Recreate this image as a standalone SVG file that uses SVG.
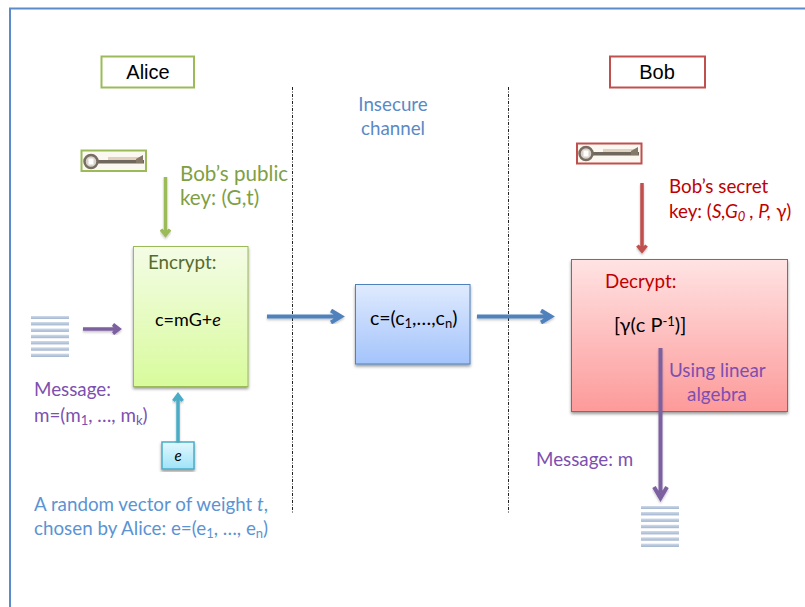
<svg xmlns="http://www.w3.org/2000/svg" width="805" height="607" viewBox="0 0 805 607">
<style>
text{font-family:Lato,"Open Sans",sans-serif;font-size:18.800px}
.a{font-family:"Liberation Sans",Arial,sans-serif;font-size:20px;fill:#000;text-anchor:middle}
.k{fill:#000}.g{fill:#7f9f45;font-size:20.600px}.r{fill:#c00000}.p{fill:#7d4fb0}.b{fill:#5b93d3}.s{fill:#5a8ac6}
.i{font-style:italic}
.u{font-size:13px}
.ln{fill:none;stroke-width:3.500;stroke-linecap:butt;stroke-linejoin:miter}
.d{stroke:#222;stroke-width:1;stroke-dasharray:3 1.5 1 1.5;fill:none}
</style>
<defs>
<linearGradient id="gg" x1="0" y1="0" x2="0" y2="1"><stop offset="0" stop-color="#f4fce6"/><stop offset="1" stop-color="#d8fb9c"/></linearGradient>
<linearGradient id="gb" x1="0" y1="0" x2="0" y2="1"><stop offset="0" stop-color="#dfeafe"/><stop offset="1" stop-color="#a4c4fb"/></linearGradient>
<linearGradient id="gr" x1="0" y1="0" x2="0" y2="1"><stop offset="0" stop-color="#ffe3e3"/><stop offset="1" stop-color="#fd9a9a"/></linearGradient>
<linearGradient id="gc" x1="0" y1="0" x2="0" y2="1"><stop offset="0" stop-color="#e2f8fe"/><stop offset="1" stop-color="#9fe3f8"/></linearGradient>
<linearGradient id="gs" x1="0" y1="0" x2="0" y2="1"><stop offset="0" stop-color="#cfdbea"/><stop offset="1" stop-color="#a3b5cf"/></linearGradient>
<filter id="sh" x="-10%" y="-10%" width="120%" height="120%"><feDropShadow dx="0" dy="2" stdDeviation="1.5" flood-color="#000" flood-opacity=".4"/></filter>
<filter id="bl" x="-10%" y="-10%" width="120%" height="120%"><feGaussianBlur stdDeviation=".4"/><feDropShadow dx="0" dy="1.500" stdDeviation="1" flood-color="#000" flood-opacity=".25"/></filter>
<filter id="kb" x="-5%" y="-20%" width="110%" height="140%"><feGaussianBlur stdDeviation=".7"/></filter>
<g id="key">
<rect x="0" y="0" width="64" height="20" fill="#fbf8f2"/>
<g filter="url(#kb)">
<rect x="16" y="9" width="46" height="3.500" fill="#6f675c"/>
<rect x="26" y="6" width="32" height="3" fill="#e0d2be"/>
<path d="M54 8l7-4v8h-7z" fill="#85796a"/>
<circle cx="9" cy="10.500" r="6.500" fill="#d8d2ca" stroke="#786d62" stroke-width="2.500"/>
<rect x="6.500" y="7.500" width="5" height="6" fill="#fff"/>
</g>
</g>
<g id="doc" fill="url(#gs)">
<rect x="0" y="0" width="38" height="3"/><rect x="0" y="6" width="38" height="3.4"/><rect x="0" y="12.500" width="38" height="3.400"/><rect x="0" y="18.800" width="38" height="3.400"/><rect x="0" y="25" width="38" height="3.400"/><rect x="0" y="31.300" width="38" height="3.400"/><rect x="0" y="37.600" width="38" height="3.400"/>
</g>
</defs>
<rect width="805" height="607" fill="#fff"/>
<path d="M805 8.500H10V607" fill="none" stroke="#5b8bc8" stroke-width="2"/>
<path class="d" d="M292.500 87V513"/>
<path class="d" d="M508.500 87V513"/>

<g id="alice"><rect x="101.500" y="56.500" width="92.500" height="31" fill="#fff" stroke="#9bbb59" stroke-width="2"/><text class="a" x="148" y="79">Alice</text></g>
<g id="bob"><rect x="610" y="56.500" width="95" height="31" fill="#fff" stroke="#c0504d" stroke-width="2"/><text class="a" x="657" y="79">Bob</text></g>
<g id="alice-key"><use href="#key" x="82" y="151"/><rect x="81.500" y="150.500" width="64.500" height="20.500" fill="none" stroke="#9bbb59" stroke-width="2"/></g>
<g id="bob-key"><use href="#key" x="577" y="143"/><rect x="577" y="143.500" width="64.500" height="20" fill="none" stroke="#c0504d" stroke-width="2"/></g>
<g id="public-label"><text class="g" x="180" y="181">Bob’s public</text><text class="g" x="180" y="205">key: (G,t)</text></g>
<g id="secret-label"><text class="r" x="669" y="193">Bob’s secret</text><text class="r" x="669" y="218">key: (<tspan class="i">S,G<tspan class="u" dy="3">0</tspan><tspan dy="-3"> , P,</tspan></tspan> γ)</text></g>
<g id="channel-label"><text class="s" x="393" y="111" text-anchor="middle">Insecure</text><text class="s" x="393" y="135" text-anchor="middle">channel</text></g>

<g id="encrypt"><rect x="133.500" y="246.500" width="114.500" height="140" fill="url(#gg)" stroke="#9bbb59" filter="url(#sh)"/><text x="148" y="269" fill="#566b2f">Encrypt:</text><text class="k" x="155" y="326" style="font-size:18px">c=mG+<tspan class="i">e</tspan></text></g>
<g id="cipher"><rect x="355.500" y="284.500" width="114.500" height="79.500" fill="url(#gb)" stroke="#4f81bd" filter="url(#sh)"/><text class="k" x="370" y="325" style="font-size:19.500px">c=(c<tspan class="u" dy="3">1</tspan><tspan dy="-3">,…,c</tspan><tspan class="u" dy="3">n</tspan><tspan dy="-3">)</tspan></text></g>
<g id="decrypt"><rect x="571.500" y="259.500" width="216" height="152" fill="url(#gr)" stroke="#c0504d" filter="url(#sh)"/><text class="r" x="605" y="288">Decrypt:</text><text class="k" x="614" y="332" style="font-size:20px">[γ(c P<tspan class="u" dy="-6">-1</tspan><tspan dy="6">)]</tspan></text></g>
<g id="e-box"><rect x="162" y="442" width="32" height="27" fill="url(#gc)" stroke="#4bacc6" stroke-width="1.500" filter="url(#sh)"/><text class="k i" x="178" y="461" text-anchor="middle" style="font-size:15px">e</text></g>
<g id="msg-in"><use href="#doc" x="31" y="316"/></g>
<g id="msg-out"><use href="#doc" x="641" y="506"/></g>

<g id="connectors">
<path class="ln" filter="url(#bl)" stroke="#9bbb59" d="M165.500 177V235M161 229.500l4.500 5.500 4.500-5.500"/>
<path class="ln" filter="url(#bl)" stroke="#c0504d" d="M642 183V251M637.500 245.500l4.500 5.500 4.500-5.500"/>
<path class="ln" filter="url(#bl)" stroke="#7d60a0" d="M83 329H119M113 324.500l6 4.500-6 4.500"/>
<path class="ln" filter="url(#bl)" stroke="#4bacc6" d="M178 441V395M173.500 401l4.500-6 4.500 6"/>
<path class="ln" filter="url(#bl)" stroke="#4f81bd" style="stroke-width:4" d="M267 316.500H341M331 310.500l10 6-10 6"/>
<path class="ln" filter="url(#bl)" stroke="#4f81bd" style="stroke-width:4" d="M477 316.500H551M541 310.500l10 6-10 6"/>
<path class="ln" filter="url(#bl)" stroke="#7d60a0" style="stroke-width:4" d="M660.500 348V498M654 487l6.500 11 6.500-11"/>
</g>

<g id="labels">
<text class="p" x="34" y="396">Message:</text>
<text class="p" x="34" y="422">m=(m<tspan class="u" dy="3">1</tspan><tspan dy="-3">, …, m</tspan><tspan class="u" dy="3">k</tspan><tspan dy="-3">)</tspan></text>
<text class="b" x="34" y="511">A random vector of weight <tspan class="i">t</tspan>,</text>
<text class="b" x="34" y="535">chosen by Alice: e=(e<tspan class="u" dy="3">1</tspan><tspan dy="-3">, …, e</tspan><tspan class="u" dy="3">n</tspan><tspan dy="-3">)</tspan></text>
<text class="p" x="669" y="377">Using linear</text>
<text class="p" x="717" y="401" text-anchor="middle">algebra</text>
<text class="p" x="536" y="466">Message: m</text>
</g>
</svg>
